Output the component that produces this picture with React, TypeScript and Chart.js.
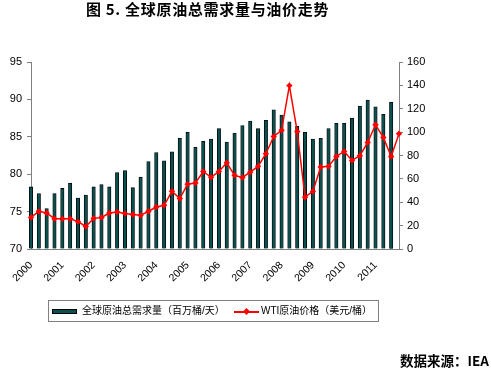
import React, { useEffect, useRef } from "react";
import { Chart, registerables } from "chart.js";

Chart.register(...registerables);

const years = ["2000", "2001", "2002", "2003", "2004", "2005", "2006", "2007", "2008", "2009", "2010", "2011"];
const quarters = ["Q1", "Q2", "Q3", "Q4"];
const categories: string[] = [];
years.forEach((y) => quarters.forEach((q) => categories.push(y + q)));

const demand: (number | null)[] = [
  78.3, 77.4, 75.4, 77.4, 78.1, 78.8, 76.8, 77.2, 78.3, 78.6, 78.3, 80.2,
  80.5, 78.2, 79.6, 81.7, 82.9, 81.8, 83.0, 84.8, 85.6, 83.6, 84.4, 84.7,
  86.1, 84.3, 85.5, 86.5, 87.1, 86.1, 87.2, 88.6, 87.9, 87.0, 86.4, 85.6,
  84.7, 84.8, 86.1, 86.8, 86.8, 87.5, 89.1, 89.9, 89.0, 88.0, 89.6, null,
];

const wti: number[] = [
  27.0, 32.2, 30.8, 25.9, 25.9, 25.9, 23.4, 19.3, 26.2, 27.0, 30.8, 31.7,
  30.3, 29.5, 28.8, 32.3, 35.9, 37.4, 49.4, 43.2, 55.5, 56.5, 66.3, 61.3,
  66.4, 73.8, 63.0, 61.2, 65.7, 70.7, 81.5, 96.3, 101.5, 139.8, 100.5, 44.3,
  49.3, 70.1, 70.7, 79.2, 83.5, 75.8, 79.8, 91.2, 106.3, 95.5, 79.2, 98.7,
];

const leftTicks = { min: 70, max: 95, step: 5 };
const rightTicks = { min: 0, max: 160, step: 20 };

const titleText = "图 5. 全球原油总需求量与油价走势";
const seriesNames = ["全球原油总需求量（百万桶/天）", "WTI原油价格（美元/桶）"];
const sourceText = "数据来源：IEA";

const BAR_COLOR = "#0b4f4f";
const LINE_COLOR = "#ff0000";
const FONT = "'Liberation Sans', Arial, sans-serif";
const CJK = "'Liberation Sans', 'Noto Sans CJK SC', sans-serif";

export default function App() {
  const ref = useRef<HTMLCanvasElement | null>(null);

  useEffect(() => {
    if (!ref.current) return;
    const chart = new Chart(ref.current, {
      data: {
        labels: categories,
        datasets: [
          {
            type: "line",
            label: seriesNames[1],
            data: wti,
            yAxisID: "y1",
            borderColor: LINE_COLOR,
            backgroundColor: LINE_COLOR,
            borderWidth: 1.5,
            pointStyle: "rectRot",
            pointRadius: 3.2,
            pointBorderWidth: 0,
            order: 0,
            clip: 8,
          },
          {
            type: "bar",
            label: seriesNames[0],
            data: demand,
            yAxisID: "y",
            backgroundColor: BAR_COLOR,
            borderColor: "#000000",
            borderWidth: 0.8,
            barThickness: 3.4,
            base: 70,
            order: 1,
            clip: 4,
          } as any,
        ],
      },
      options: {
        animation: false,
        responsive: false,
        maintainAspectRatio: false,
        layout: { padding: { left: 0, right: 62, top: 62, bottom: 79 } },
        plugins: { legend: { display: false }, tooltip: { enabled: false }, title: { display: false } },
        scales: {
          x: {
            type: "category",
            offset: false,
            grid: { display: true, drawOnChartArea: false, drawTicks: false },
            border: { display: true, color: "#808080", width: 1 },
            ticks: {
              autoSkip: false,
              minRotation: 45,
              maxRotation: 45,
              padding: 10,
              color: "#000",
              font: { family: FONT, size: 10.5 },
              callback: (_v: any, i: number) => (i % 4 === 0 ? categories[i].slice(0, 4) : ""),
            },
            afterFit: (s: any) => {
              s.height = 40;
            },
          },
          y: {
            type: "linear",
            position: "left",
            min: leftTicks.min,
            max: leftTicks.max,
            grid: { display: true, drawOnChartArea: false, tickLength: 4, color: "#808080" },
            border: { display: true, color: "#808080", width: 1 },
            ticks: { stepSize: leftTicks.step, padding: 5, color: "#000", font: { family: FONT, size: 11 } },
            afterFit: (s: any) => {
              s.width = 31;
            },
          },
          y1: {
            type: "linear",
            position: "right",
            min: rightTicks.min,
            max: rightTicks.max,
            grid: { display: true, drawOnChartArea: false, tickLength: 4, color: "#808080" },
            border: { display: true, color: "#808080", width: 1 },
            ticks: { stepSize: rightTicks.step, padding: 4, color: "#000", font: { family: FONT, size: 11 } },
            afterFit: (s: any) => {
              s.width = 30;
            },
          },
        },
      } as any,
    });
    return () => chart.destroy();
  }, []);

  return (
    <div style={{ position: "fixed", left: 0, top: 0, width: 491, height: 368, background: "#fff", overflow: "hidden" }}>
      <canvas ref={ref} width={491} height={368} style={{ position: "absolute", left: 0, top: 0, width: 491, height: 368 }} />
      <div
        style={{
          position: "absolute",
          left: 86,
          top: 0,
          fontFamily: "'Noto Sans CJK SC', sans-serif",
          fontWeight: 700,
          fontSize: 15,
          letterSpacing: "0.7px",
          lineHeight: "17px",
          whiteSpace: "nowrap",
          color: "#000",
        }}
      >
        {titleText}
      </div>
      <div
        style={{
          position: "absolute",
          left: 48,
          top: 300,
          width: 331,
          height: 22,
          border: "1px solid #808080",
          boxSizing: "border-box",
          fontFamily: CJK,
          fontSize: 10,
          color: "#000",
          whiteSpace: "nowrap",
        }}
      >
        <div style={{ position: "absolute", left: 3, top: 8, width: 25, height: 5, background: BAR_COLOR, border: "1px solid #000", boxSizing: "border-box" }} />
        <div style={{ position: "absolute", left: 33, top: 3, lineHeight: "14px" }}>{seriesNames[0]}</div>
        <div style={{ position: "absolute", left: 185, top: 10, width: 25, height: 1.5, background: LINE_COLOR }} />
        <div style={{ position: "absolute", left: 195, top: 7.5, width: 5, height: 5, background: LINE_COLOR, transform: "rotate(45deg)" }} />
        <div style={{ position: "absolute", left: 212, top: 3, lineHeight: "14px" }}>{seriesNames[1]}</div>
      </div>
      <div
        style={{
          position: "absolute",
          right: 2,
          top: 352,
          fontFamily: "'Noto Sans CJK SC', sans-serif",
          fontWeight: 700,
          fontSize: 13.5,
          lineHeight: "16px",
          whiteSpace: "nowrap",
          color: "#000",
        }}
      >
        {sourceText}
      </div>
    </div>
  );
}
